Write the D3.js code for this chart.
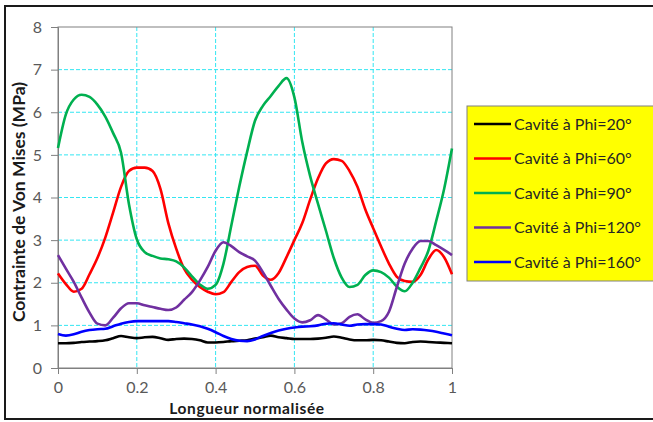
<!DOCTYPE html>
<html>
<head>
<meta charset="utf-8">
<script src="https://cdn.jsdelivr.net/npm/d3@7"></script>
<style>
  html, body { margin: 0; padding: 0; background: #fff; }
  svg { display: block; font-family: Lato, "Open Sans", sans-serif; }
</style>
</head>
<body>
<svg id="chart" width="653" height="422"></svg>
<script>
// Normalised length along the cavity (shared abscissa for all curves)
const positions = d3.range(0, 51).map(i => +(i * 0.02).toFixed(2));

// Von Mises stress (MPa) for each cavity angle
const phi20 = [0.58,0.58,0.59,0.61,0.62,0.63,0.65,0.70,0.75,0.72,0.70,0.72,0.73,0.70,0.66,0.68,0.69,0.68,0.65,0.60,
  0.60,0.61,0.63,0.64,0.65,0.69,0.72,0.76,0.72,0.70,0.68,0.68,0.68,0.69,0.71,0.74,0.71,0.67,0.65,0.65,
  0.66,0.65,0.62,0.59,0.58,0.61,0.62,0.61,0.60,0.59,0.58];
const phi60 = [2.22,1.97,1.79,1.86,2.20,2.58,3.06,3.65,4.25,4.62,4.70,4.70,4.62,4.20,3.40,2.80,2.33,2.07,1.90,1.79,
  1.73,1.78,2.02,2.25,2.37,2.40,2.17,2.07,2.23,2.60,3.00,3.40,3.95,4.45,4.80,4.90,4.86,4.62,4.25,3.72,
  3.28,2.85,2.45,2.14,2.04,2.02,2.18,2.55,2.77,2.60,2.20];
const phi90 = [5.16,5.95,6.30,6.41,6.36,6.18,5.90,5.51,5.05,3.85,3.02,2.72,2.63,2.57,2.55,2.50,2.36,2.15,1.96,1.86,
  1.95,2.45,3.35,4.25,5.07,5.80,6.15,6.38,6.62,6.80,6.35,5.30,4.50,3.85,3.22,2.58,2.12,1.90,1.95,2.18,
  2.29,2.25,2.12,1.91,1.80,2.00,2.35,2.75,3.45,4.20,5.15];
const phi120 = [2.65,2.33,2.02,1.65,1.30,1.04,1.00,1.18,1.40,1.52,1.52,1.47,1.43,1.39,1.36,1.42,1.60,1.78,2.05,2.37,
  2.75,2.95,2.86,2.72,2.62,2.52,2.25,1.93,1.62,1.37,1.16,1.07,1.12,1.24,1.14,1.02,1.05,1.20,1.26,1.14,
  1.06,1.10,1.32,1.90,2.45,2.80,2.98,2.98,2.88,2.77,2.65];
const phi160 = [0.80,0.76,0.79,0.85,0.89,0.91,0.92,0.98,1.04,1.08,1.10,1.10,1.10,1.10,1.10,1.08,1.05,1.02,0.98,0.92,
  0.84,0.75,0.68,0.64,0.63,0.67,0.75,0.82,0.88,0.92,0.95,0.97,0.98,1.00,1.04,1.05,1.02,0.99,1.02,1.03,
  1.03,1.02,0.97,0.92,0.89,0.91,0.90,0.88,0.85,0.81,0.77];

const seriesNames = ["Cavité à Phi=20°", "Cavité à Phi=60°", "Cavité à Phi=90°", "Cavité à Phi=120°", "Cavité à Phi=160°"];
const seriesColors = ["#000000", "#ff0000", "#00b050", "#7030a0", "#0000ff"];
const seriesValues = [phi20, phi60, phi90, phi120, phi160];

const xTicks = [0, 0.2, 0.4, 0.6, 0.8, 1];
const yTicks = [0, 1, 2, 3, 4, 5, 6, 7, 8];

const svg = d3.select("#chart");

// Frame around the whole figure
svg.append("rect")
  .attr("x", 5).attr("y", 6).attr("width", 660).attr("height", 413)
  .attr("fill", "#fff").attr("stroke", "#1a1a1a").attr("stroke-width", 2);

const plot = { left: 58, right: 452, top: 27, bottom: 368 };
const x = d3.scaleLinear().domain([0, 1]).range([plot.left, plot.right]);
const y = d3.scaleLinear().domain([0, 8]).range([plot.bottom, plot.top]);

// Dashed cyan grid
const grid = svg.append("g");
grid.selectAll("line.h").data(yTicks.filter(v => v > 0 && v < 8)).join("line")
  .attr("x1", plot.left).attr("x2", plot.right)
  .attr("y1", d => y(d)).attr("y2", d => y(d))
  .attr("stroke", "#33e6f2").attr("stroke-width", 1).attr("stroke-dasharray", "4,2");
grid.selectAll("line.v").data(xTicks.filter(v => v > 0 && v < 1)).join("line")
  .attr("y1", plot.top).attr("y2", plot.bottom)
  .attr("x1", d => x(d)).attr("x2", d => x(d))
  .attr("stroke", "#33e6f2").attr("stroke-width", 1).attr("stroke-dasharray", "4,2");

// Plot-area outline
svg.append("rect")
  .attr("x", plot.left).attr("y", plot.top)
  .attr("width", plot.right - plot.left).attr("height", plot.bottom - plot.top)
  .attr("fill", "none").attr("stroke", "#808080").attr("stroke-width", 1);

// Axes
const xAxis = svg.append("g").attr("transform", `translate(0,${plot.bottom})`)
  .call(d3.axisBottom(x).tickValues(xTicks).tickFormat(d3.format("")).tickSize(6).tickPadding(8));
const yAxis = svg.append("g").attr("transform", `translate(${plot.left},0)`)
  .call(d3.axisLeft(y).tickValues(yTicks).tickSize(7).tickPadding(9));
[xAxis, yAxis].forEach(a => {
  a.select(".domain").attr("stroke", "#808080");
  a.selectAll(".tick line").attr("stroke", "#808080");
  a.selectAll(".tick text").attr("fill", "#595959").style("font-size", "16px")
    .style("font-family", "Lato, 'Open Sans', sans-serif");
});

// Curves
const line = d3.line().x((d, i) => x(positions[i])).y(d => y(d)).curve(d3.curveMonotoneX);
svg.append("g").selectAll("path").data(seriesValues).join("path")
  .attr("d", d => line(d))
  .attr("fill", "none")
  .attr("stroke", (d, i) => seriesColors[i])
  .attr("stroke-width", 2.6)
  .attr("stroke-linejoin", "round");

// Axis titles
svg.append("text")
  .attr("x", 247).attr("y", 414)
  .attr("text-anchor", "middle")
  .style("font-size", "15.5px").style("font-weight", "bold").style("letter-spacing", "0.6px")
  .attr("fill", "#1a1a1a")
  .text("Longueur normalisée");
svg.append("text")
  .attr("transform", "translate(25,202) rotate(-90)")
  .attr("text-anchor", "middle")
  .style("font-size", "17.5px").style("font-weight", "bold").attr("fill", "#1a1a1a")
  .text("Contrainte de Von Mises (MPa)");

// Legend
const legend = svg.append("g");
legend.append("rect")
  .attr("x", 467).attr("y", 106).attr("width", 190).attr("height", 175)
  .attr("fill", "#ffff00").attr("stroke", "#808080").attr("stroke-width", 1);
const rowY = d3.scalePoint().domain(seriesNames).range([124, 262]);
const rows = legend.selectAll("g.row").data(seriesNames).join("g")
  .attr("transform", d => `translate(0,${rowY(d)})`);
rows.append("line")
  .attr("x1", 474).attr("x2", 511).attr("y1", 0).attr("y2", 0)
  .attr("stroke", (d, i) => seriesColors[i]).attr("stroke-width", 2.6);
rows.append("text")
  .attr("x", 514).attr("y", 5.5)
  .style("font-size", "16px").attr("fill", "#262626")
  .text(d => d);
</script>
</body>
</html>
